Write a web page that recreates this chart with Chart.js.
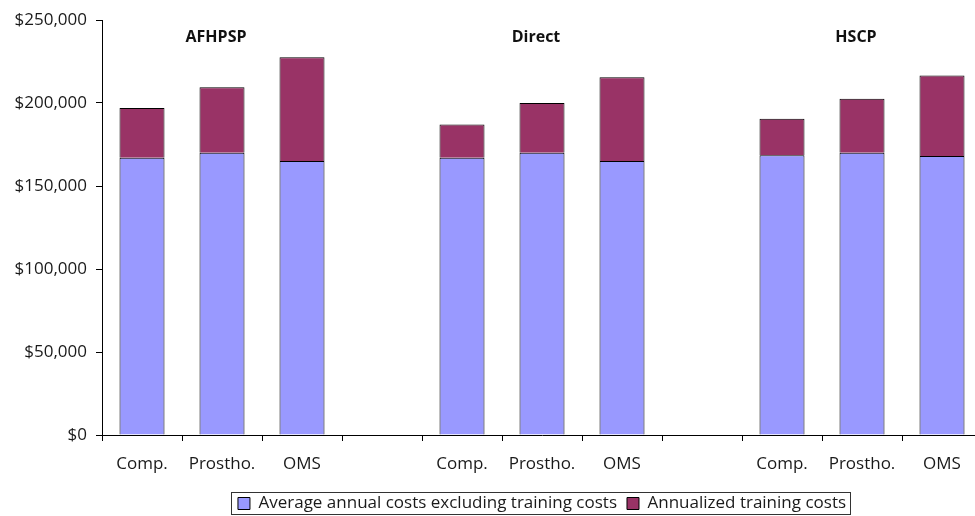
<!DOCTYPE html>
<html>
<head>
<meta charset="utf-8">
<script src="https://cdn.jsdelivr.net/npm/chart.js@4.4.1/dist/chart.umd.min.js"></script>
<style>
  html, body { margin: 0; padding: 0; background: #fff; overflow: hidden; }
  #wrap { width: 975px; height: 516px; overflow: hidden; }
</style>
</head>
<body>
<div id="wrap"><canvas id="costChart" width="990" height="516"></canvas></div>
<script>
// categories: three programmes, blank slots between them
const categories = ['Comp.', 'Prostho.', 'OMS', '', 'Comp.', 'Prostho.', 'OMS', '', 'Comp.', 'Prostho.', 'OMS'];
const baseCosts = [167000, 170000, 165000, null, 167000, 170000, 165000, null, 168500, 170000, 168000];
const trainingCosts = [30000, 39500, 62500, null, 20000, 30000, 50500, null, 22000, 32500, 48500];
const seriesNames = ['Average annual costs excluding training costs', 'Annualized training costs'];
const groupNames = ['AFHPSP', 'Direct', 'HSCP'];
const groupAt = [1, 5, 9]; // category index each programme name sits over
const yTicks = [0, 50000, 100000, 150000, 200000, 250000];

const FONT = '"Open Sans", Lato, sans-serif';
Chart.defaults.font.family = FONT;
Chart.defaults.font.size = 17;
Chart.defaults.color = '#1a1a1a';

// programme names above each group
const groupTitles = {
  id: 'groupTitles',
  afterDraw(chart) {
    const ctx = chart.ctx, x = chart.scales.x;
    ctx.save();
    ctx.font = 'bold 16px ' + FONT;
    ctx.fillStyle = '#111';
    ctx.textAlign = 'center';
    ctx.textBaseline = 'middle';
    groupNames.forEach((name, i) => {
      ctx.fillText(name, x.getPixelForValue(groupAt[i]) - 6, 37);
    });
    ctx.restore();
  }
};

// legend centred under the plot, with a frame round it
const legendFrame = {
  id: 'legendFrame',
  afterLayout(chart) {
    const lg = chart.legend, ca = chart.chartArea;
    const h = lg.height;
    lg.left = ca.left;
    lg.right = ca.right;
    lg.width = ca.right - ca.left;
    lg.top = chart.height - h + 6;
    lg.bottom = lg.top + h;
  },
  afterDraw(chart) {
    const boxes = chart.legend.legendHitBoxes;
    if (!boxes || !boxes.length) return;
    const l = Math.min(...boxes.map(b => b.left)) - 7;
    const r = Math.max(...boxes.map(b => b.left + b.width)) + 4;
    const t = Math.min(...boxes.map(b => b.top)) - 3;
    const btm = Math.max(...boxes.map(b => b.top + b.height)) + 2;
    const ctx = chart.ctx;
    ctx.save();
    ctx.strokeStyle = '#333';
    ctx.lineWidth = 1;
    ctx.strokeRect(Math.round(l) + 0.5, Math.round(t) + 0.5, Math.round(r - l), Math.round(btm - t));
    ctx.restore();
  }
};

new Chart(document.getElementById('costChart'), {
  type: 'bar',
  data: {
    labels: categories,
    datasets: [
      { label: seriesNames[0], data: baseCosts, backgroundColor: '#9999ff', borderColor: '#000', borderWidth: 1 },
      { label: seriesNames[1], data: trainingCosts, backgroundColor: '#993366', borderColor: '#000', borderWidth: 1 }
    ]
  },
  options: {
    responsive: false,
    devicePixelRatio: 1,
    animation: false,
    layout: { padding: { top: 20, right: 8, bottom: 0, left: 0 } },
    datasets: { bar: { categoryPercentage: 1, barPercentage: 0.5625 } },
    plugins: {
      tooltip: { enabled: false },
      legend: {
        position: 'bottom',
        labels: { boxWidth: 12, boxHeight: 12, padding: 10, font: { size: 17 }, color: '#1a1a1a' }
      }
    },
    scales: {
      x: {
        stacked: true,
        grid: { drawOnChartArea: false, tickLength: 6, color: '#000', offset: true },
        border: { color: '#000', width: 1 },
        ticks: { padding: 13, maxRotation: 0, autoSkip: false },
        afterFit: s => { s.height = 44; }
      },
      y: {
        stacked: true,
        min: 0,
        max: 250000,
        afterBuildTicks: s => { s.ticks = yTicks.map(v => ({ value: v })); },
        grid: { drawOnChartArea: false, tickLength: 6, color: '#000' },
        border: { color: '#000', width: 1 },
        ticks: { padding: 9, callback: v => '$' + v.toLocaleString('en-US') },
        afterFit: s => { s.width = 102; }
      }
    }
  },
  plugins: [groupTitles, legendFrame]
});
</script>
</body>
</html>
